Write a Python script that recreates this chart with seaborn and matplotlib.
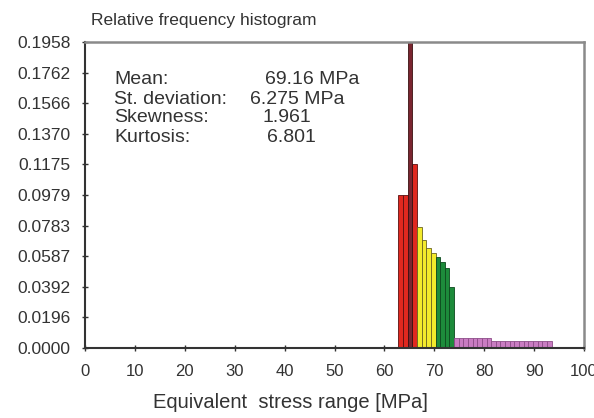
import matplotlib
matplotlib.use("Agg")
import matplotlib.pyplot as plt
import seaborn as sns
import pandas as pd
import numpy as np

# bin centres [MPa] and relative frequency
stress_mpa = [63.27, 64.20, 65.13, 66.06,
              66.99, 67.92, 68.85, 69.78,
              70.71, 71.64, 72.57, 73.50,
              74.43, 75.36, 76.29, 77.22, 78.15, 79.08, 80.01, 80.94,
              81.87, 82.80, 83.73, 84.66, 85.59, 86.52, 87.45, 88.38,
              89.31, 90.24, 91.17, 92.10, 93.03]
rel_freq = [0.0979, 0.0979, 0.2150, 0.1177,
            0.0774, 0.0691, 0.0640, 0.0608,
            0.0582, 0.0548, 0.0512, 0.0390,
            0.0062, 0.0062, 0.0062, 0.0062, 0.0062, 0.0062, 0.0062, 0.0062,
            0.0045, 0.0045, 0.0045, 0.0045, 0.0045, 0.0045, 0.0045, 0.0045,
            0.0045, 0.0045, 0.0045, 0.0045, 0.0045]
zone = ['red', 'red', 'mode', 'red',
        'yellow', 'yellow', 'yellow', 'yellow',
        'green', 'green', 'green', 'green'] + ['pink'] * 21

y_ticks = [0.0000, 0.0196, 0.0392, 0.0587, 0.0783, 0.0979,
           0.1175, 0.1370, 0.1566, 0.1762, 0.1958]
x_ticks = [0, 10, 20, 30, 40, 50, 60, 70, 80, 90, 100]

stat_names = ['Mean:', 'St. deviation:', 'Skewness:', 'Kurtosis:']
stat_values = ['69.16 MPa', '6.275 MPa', '1.961', '6.801']

df = pd.DataFrame({'stress': stress_mpa, 'freq': rel_freq, 'zone': zone})

sns.set_theme(style="white")
plt.rcParams['font.family'] = ['Liberation Sans', 'DejaVu Sans']
txt_col = '#333333'

zone_colors = {'red': '#e0281f', 'mode': '#7a2530', 'yellow': '#f3ea2c',
               'green': '#1d8b3b', 'pink': '#c97cc2'}
edge_colors = {'red': '#5a1010', 'mode': '#3a1010', 'yellow': '#6a6420',
               'green': '#0d4a1e', 'pink': '#8c4c88'}
bw = 0.93

fig = plt.figure(figsize=(5.94, 4.18), dpi=100)
ax = fig.add_axes([85/594, 1-348/418, 499/594, 306/418])

for z in ['red', 'mode', 'yellow', 'green', 'pink']:
    sub = df[df['zone'] == z]
    sns.histplot(data=sub, x='stress', weights='freq', binwidth=bw,
                 binrange=(sub['stress'].min() - bw/2, sub['stress'].max() + bw/2),
                 color=zone_colors[z], edgecolor=edge_colors[z], linewidth=0.6,
                 alpha=1, ax=ax)

ax.set_xlim(0, 100)
ax.set_ylim(0, 0.1958)
ax.set_xticks(x_ticks)
ax.set_yticks(y_ticks)
ax.set_yticklabels(['%.4f' % v for v in y_ticks])
ax.tick_params(axis='both', which='major', direction='inout', length=5, width=1,
               color='#333333', labelcolor=txt_col, bottom=True, left=True)
ax.tick_params(axis='y', pad=8, labelsize=12.5)
ax.tick_params(axis='x', pad=9, labelsize=12)
ax.set_ylabel('')
ax.set_xlabel('')
ax.grid(False)

for side in ['left', 'bottom']:
    ax.spines[side].set_color('#333333')
    ax.spines[side].set_linewidth(1.5)
for side in ['top', 'right']:
    ax.spines[side].set_color('#8a8a8a')
    ax.spines[side].set_linewidth(1.8)

fig.text(91/594, 1-20/418, 'Relative frequency histogram', fontsize=12.5,
         color=txt_col, ha='left', va='center')
fig.text(290/594, 1-402/418, 'Equivalent  stress range [MPa]', fontsize=14.5,
         color=txt_col, ha='center', va='center')

row_y = [80, 99, 118, 137]
val_x = [265, 250, 263, 267]
for i in range(4):
    fig.text(114/594, 1-row_y[i]/418, stat_names[i], fontsize=14,
             color=txt_col, ha='left', va='center')
    fig.text(val_x[i]/594, 1-row_y[i]/418, stat_values[i], fontsize=14,
             color=txt_col, ha='left', va='center')

fig.savefig('out.png', dpi=100)
